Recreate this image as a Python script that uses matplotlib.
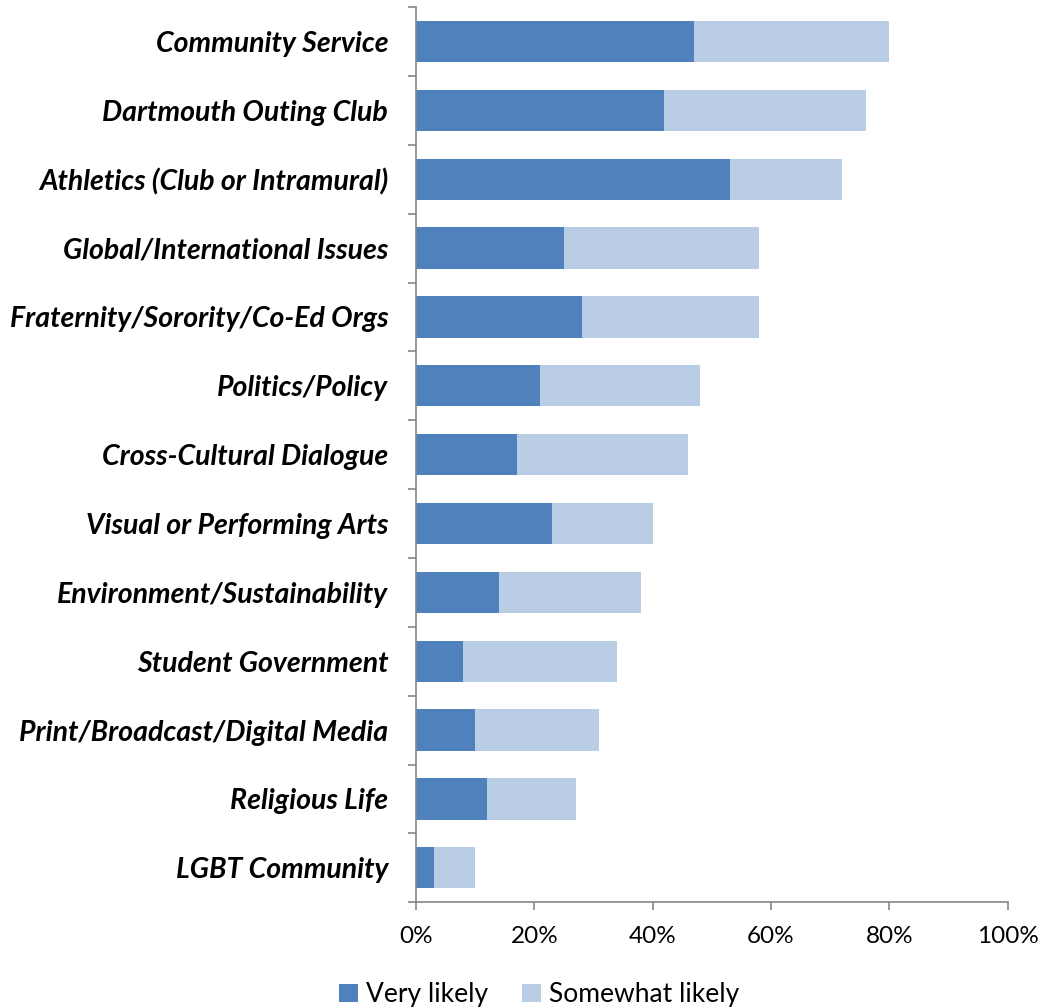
import matplotlib
matplotlib.use("Agg")
import matplotlib.pyplot as plt
from matplotlib.ticker import FuncFormatter, FixedLocator

categories = [
    "Community Service",
    "Dartmouth Outing Club",
    "Athletics (Club or Intramural)",
    "Global/International Issues",
    "Fraternity/Sorority/Co-Ed Orgs",
    "Politics/Policy",
    "Cross-Cultural Dialogue",
    "Visual or Performing Arts",
    "Environment/Sustainability",
    "Student Government",
    "Print/Broadcast/Digital Media",
    "Religious Life",
    "LGBT Community",
]
very_likely = [47, 42, 53, 25, 28, 21, 17, 23, 14, 8, 10, 12, 3]
somewhat_likely = [33, 34, 19, 33, 30, 27, 29, 17, 24, 26, 21, 15, 7]
x_ticks = [0, 20, 40, 60, 80, 100]

plt.rcParams["font.family"] = ["Lato", "DejaVu Sans"]

fig = plt.figure(figsize=(10.53, 10.07), dpi=100)
ax = fig.add_axes([0.395, 0.104, 0.562, 0.889])

y = list(range(len(categories)))
ax.barh(y, very_likely, height=0.6, color="#4F81BD", label="Very likely")
ax.barh(y, somewhat_likely, left=very_likely, height=0.6, color="#B9CDE5",
        label="Somewhat likely")

ax.set_ylim(len(categories) - 0.5, -0.5)
ax.set_xlim(0, 100)
ax.xaxis.set_major_locator(FixedLocator(x_ticks))
ax.xaxis.set_major_formatter(FuncFormatter(lambda v, _: f"{v:.0f}%"))

# category labels between the boundary ticks
ax.set_yticks(y)
ax.set_yticklabels(categories, fontsize=20.5, fontweight="bold", fontstyle="italic")
ax.set_yticks([i - 0.5 for i in range(len(categories) + 1)], minor=True)
ax.tick_params(axis="y", which="major", length=0, pad=20)
ax.tick_params(axis="y", which="minor", length=6, color="#868686", width=1.2)
ax.tick_params(axis="x", length=6, color="#868686", width=1.2, labelsize=17.5, pad=11)

for side in ("top", "right"):
    ax.spines[side].set_visible(False)
for side in ("left", "bottom"):
    ax.spines[side].set_color("#868686")
    ax.spines[side].set_linewidth(1.2)

fig.legend(loc="lower center", bbox_to_anchor=(0.512, -0.024), ncol=2,
           frameon=False, fontsize=19, handlelength=0.7, handleheight=0.7,
           handletextpad=0.3, columnspacing=1.3)

fig.savefig("out.png", dpi=100, facecolor="white")
